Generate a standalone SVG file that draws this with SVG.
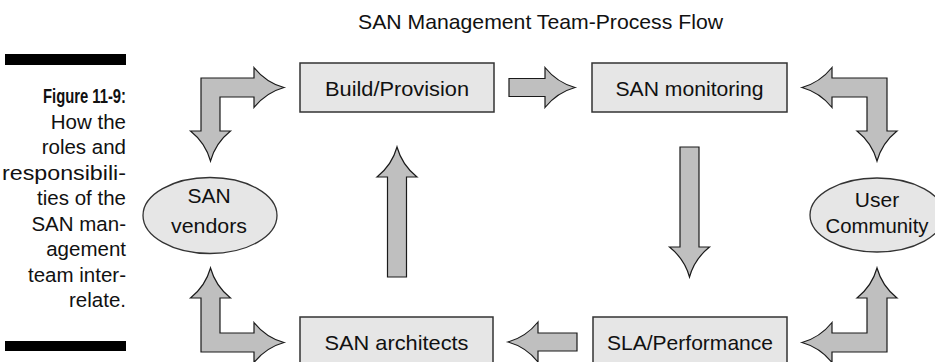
<svg xmlns="http://www.w3.org/2000/svg" width="935" height="362" viewBox="0 0 935 362">
<style>
.t{font-family:"Liberation Sans",Arial,sans-serif;font-size:21px;fill:#111;}
.cap{font-family:"Liberation Sans",Arial,sans-serif;font-size:20.5px;fill:#111;text-anchor:end;}
.box{fill:#e6e6e6;stroke:#333;stroke-width:1.5;}
.ell{fill:#e6e6e6;stroke:#333;stroke-width:1.3;}
.arr{fill:#bfbfbf;stroke:#1a1a1a;stroke-width:1.2;stroke-linejoin:miter;}
.bar{fill:#000;}
</style>
<rect width="935" height="362" fill="#fff"/>
<g id="caption">
<rect class="bar" x="5" y="54" width="121" height="11"/>
<text class="cap" x="126" y="103" font-weight="bold" textLength="83" lengthAdjust="spacingAndGlyphs">Figure 11-9:</text>
<text class="cap" x="126" y="128.5">How the</text>
<text class="cap" x="126" y="154">roles and</text>
<text class="cap" x="126" y="179.5" textLength="124" lengthAdjust="spacingAndGlyphs">responsibili-</text>
<text class="cap" x="126" y="205">ties of the</text>
<text class="cap" x="126" y="230.5">SAN man-</text>
<text class="cap" x="126" y="256">agement</text>
<text class="cap" x="126" y="281.5">team inter-</text>
<text class="cap" x="126" y="307">relate.</text>
<rect class="bar" x="5" y="341" width="121" height="10"/>
</g>
<g id="title"><text class="t" x="540.5" y="29" text-anchor="middle" textLength="365" lengthAdjust="spacingAndGlyphs">SAN Management Team-Process Flow</text></g>
<g id="connectors">
<path class="arr" d="M201,78 L254,78 L254,67.5 Q266,82.5 284,87.5 Q266,92.5 254,107.5 L254,97 L220,97 L220,131 L230.5,131 Q215.5,143 210.5,161 Q205.5,143 190.5,131 L201,131 Z"/>
<path class="arr" d="M887,78 L887,131 L897,131 Q882,143 877,161 Q872,143 857,131 L867,131 L867,97 L832,97 L832,107.5 Q820,92.5 802,87.5 Q820,82.5 832,67.5 L832,78 Z"/>
<path class="arr" d="M201,352 L201,298 L190.5,298 Q205.5,286 210.5,268 Q215.5,286 230.5,298 L220,298 L220,333 L254,333 L254,322.5 Q266,337.5 284,342.5 Q266,347.5 254,362.5 L254,352 Z"/>
<path class="arr" d="M887,352 L832,352 L832,362.5 Q820,347.5 802,342.5 Q820,337.5 832,322.5 L832,333 L867,333 L867,298 L857,298 Q872,286 877,268 Q882,286 897,298 L887,298 Z"/>
<path class="arr" d="M509,78.5 L545,78.5 L545,67.5 Q557,82.5 575,87.5 Q557,92.5 545,107.5 L545,96.5 L509,96.5 Z"/>
<path class="arr" d="M577,333 L538,333 L538,322 Q526,337 508,342 Q526,347 538,362 L538,351 L577,351 Z"/>
<path class="arr" d="M387.5,277 L387.5,177 L377,177 Q392,165 397,147 Q402,165 417,177 L406.5,177 L406.5,277 Z"/>
<path class="arr" d="M680,147 L699,147 L699,247 L709.5,247 Q694.5,259 689.5,277 Q684.5,259 669.5,247 L680,247 Z"/>
</g>
<g id="build">
<rect class="box" x="300" y="63" width="194" height="49"/>
<text class="t" x="397" y="96" text-anchor="middle" textLength="144" lengthAdjust="spacingAndGlyphs">Build/Provision</text>
</g>
<g id="monitoring">
<rect class="box" x="592" y="63" width="195" height="49"/>
<text class="t" x="689.5" y="96" text-anchor="middle" textLength="148" lengthAdjust="spacingAndGlyphs">SAN monitoring</text>
</g>
<g id="architects">
<rect class="box" x="300" y="317" width="193" height="49"/>
<text class="t" x="396.5" y="350" text-anchor="middle" textLength="144" lengthAdjust="spacingAndGlyphs">SAN architects</text>
</g>
<g id="sla">
<rect class="box" x="593" y="317" width="194" height="49"/>
<text class="t" x="690" y="350" text-anchor="middle" textLength="166" lengthAdjust="spacingAndGlyphs">SLA/Performance</text>
</g>
<g id="vendors">
<ellipse class="ell" cx="210" cy="215.5" rx="67" ry="38"/>
<text class="t" x="209" y="203" text-anchor="middle">SAN</text>
<text class="t" x="209" y="233" text-anchor="middle" textLength="76" lengthAdjust="spacingAndGlyphs">vendors</text>
</g>
<g id="community">
<ellipse class="ell" cx="877" cy="215" rx="67" ry="37"/>
<text class="t" x="877" y="207" text-anchor="middle">User</text>
<text class="t" x="877" y="233" text-anchor="middle" textLength="103" lengthAdjust="spacingAndGlyphs">Community</text>
</g>
</svg>
